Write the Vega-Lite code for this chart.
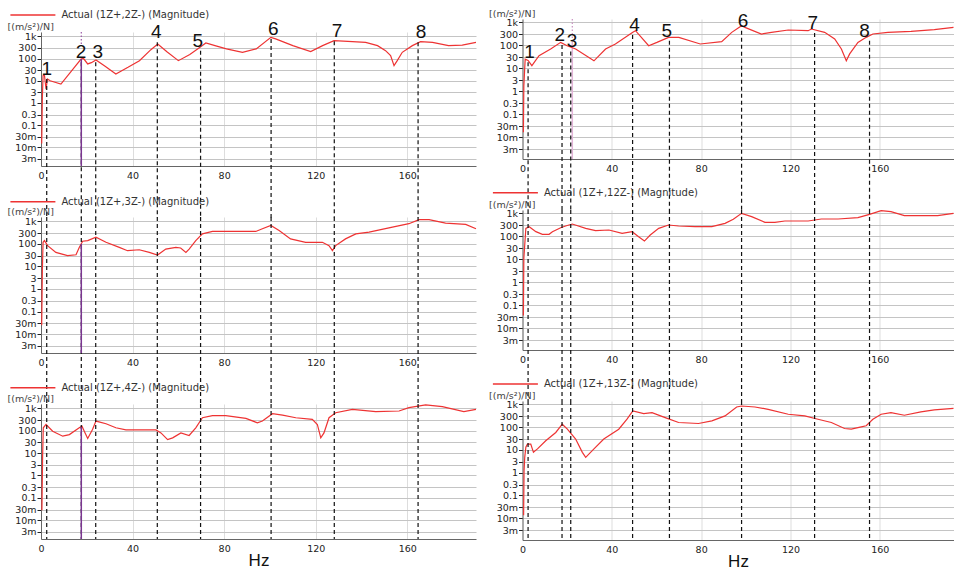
{
  "$schema": "https://vega.github.io/schema/vega-lite/v6.json",
  "background": "white",
  "padding": {"left": 7, "top": 8, "right": 0, "bottom": 0},
  "config": {
    "font": "DejaVu Sans",
    "view": {"stroke": null},
    "axis": {"labelFont": "DejaVu Sans", "labelFontSize": 9.5, "labelColor": "#222", "domainColor": "#666", "tickColor": "#222", "gridColor": "#c4c4c4", "titleFont": "DejaVu Sans", "labelOverlap": false, "labelFlush": false},
    "axisX": {"ticks": false, "labelPadding": 4, "gridColor": "#dddddd", "titleFont": "Liberation Sans", "titleFontSize": 17, "titleFontWeight": "normal", "titleColor": "#111", "titlePadding": 0},
    "axisY": {"tickSize": 4, "labelPadding": 1, "titleAngle": 0, "titleAlign": "left", "titleBaseline": "bottom", "titleX": -34, "titleY": -1, "titleFontSize": 9.5, "titleFontWeight": "normal", "titleColor": "#444",
      "labelExpr": "datum.value >= 1000 ? '1k' : datum.value < 0.05 ? format(datum.value * 1000, '.0f') + 'm' : format(datum.value, '~g')"},
    "legend": {"orient": "none", "symbolType": "M-3.75,0H3.75", "symbolSize": 144, "symbolStrokeWidth": 1.5, "labelFont": "DejaVu Sans", "labelFontSize": 10, "labelColor": "#333", "labelOffset": 21.5, "padding": 0},
    "text": {"font": "Liberation Sans", "fontSize": 19, "color": "#111", "baseline": "middle", "align": "center"}
  },
  "datasets": {
    "tl": [{"f":0.3,"v":0.015},{"f":0.6,"v":1.8},{"f":0.9,"v":17},{"f":1.5,"v":18},{"f":2.2,"v":4.2},{"f":2.8,"v":12},{"f":4,"v":10},{"f":8.7,"v":7.1},{"f":13,"v":25},{"f":17.5,"v":95},{"f":18.5,"v":102},{"f":20.4,"v":57},{"f":22,"v":65},{"f":24,"v":86},{"f":28,"v":45},{"f":32.7,"v":20},{"f":38,"v":40},{"f":43,"v":80},{"f":48,"v":250},{"f":51,"v":450},{"f":55,"v":200},{"f":60,"v":80},{"f":65,"v":150},{"f":69,"v":300},{"f":72,"v":500},{"f":76,"v":380},{"f":81,"v":270},{"f":88,"v":190},{"f":94,"v":270},{"f":100.4,"v":900},{"f":102.5,"v":760},{"f":110,"v":380},{"f":117.8,"v":204},{"f":123,"v":380},{"f":128,"v":640},{"f":136,"v":575},{"f":141.8,"v":530},{"f":147,"v":380},{"f":150.5,"v":226},{"f":152.7,"v":135},{"f":154.2,"v":48},{"f":155.6,"v":80},{"f":157.8,"v":190},{"f":162.2,"v":380},{"f":165.8,"v":575},{"f":171,"v":530},{"f":178,"v":380},{"f":184,"v":400},{"f":190,"v":530}],
    "tr": [{"f":0.4,"v":0.016},{"f":0.6,"v":1.7},{"f":1.2,"v":25},{"f":2.5,"v":22},{"f":4.2,"v":13},{"f":7.4,"v":35},{"f":12.6,"v":69},{"f":17.1,"v":134},{"f":20,"v":96},{"f":23.8,"v":69},{"f":32,"v":21},{"f":37.2,"v":69},{"f":41.6,"v":114},{"f":49.4,"v":366},{"f":50.6,"v":434},{"f":56.5,"v":96},{"f":60.2,"v":134},{"f":65.4,"v":222},{"f":70,"v":222},{"f":79.6,"v":114},{"f":89.2,"v":144},{"f":93.7,"v":366},{"f":98.1,"v":716},{"f":99.6,"v":605},{"f":107,"v":310},{"f":111.5,"v":366},{"f":119,"v":463},{"f":127.9,"v":434},{"f":129.4,"v":512},{"f":135.3,"v":366},{"f":139.8,"v":188},{"f":142.8,"v":69},{"f":145,"v":21},{"f":146.5,"v":42},{"f":150.2,"v":134},{"f":153.9,"v":222},{"f":156.9,"v":310},{"f":163.6,"v":366},{"f":174,"v":405},{"f":184.4,"v":478},{"f":193,"v":605}],
    "ml": [{"f":0.3,"v":0.025},{"f":0.6,"v":7.5},{"f":0.9,"v":118},{"f":1.5,"v":140},{"f":2.9,"v":84},{"f":6.5,"v":42},{"f":11.6,"v":30},{"f":15.3,"v":33},{"f":16.7,"v":70},{"f":18.2,"v":131},{"f":20.4,"v":140},{"f":24,"v":198},{"f":28.4,"v":118},{"f":34.2,"v":70},{"f":37.8,"v":50},{"f":42.9,"v":55},{"f":47.3,"v":42},{"f":50.9,"v":32},{"f":54.5,"v":59},{"f":58.9,"v":70},{"f":61,"v":66},{"f":63.3,"v":42},{"f":64.7,"v":59},{"f":67.6,"v":140},{"f":70.5,"v":279},{"f":74.9,"v":356},{"f":83.6,"v":356},{"f":93.8,"v":356},{"f":96.7,"v":469},{"f":100.4,"v":661},{"f":104,"v":394},{"f":109,"v":167},{"f":115.6,"v":118},{"f":122.9,"v":118},{"f":125.8,"v":84},{"f":127.3,"v":50},{"f":128.7,"v":84},{"f":133,"v":167},{"f":137.5,"v":279},{"f":143.3,"v":330},{"f":153.5,"v":557},{"f":160.7,"v":786},{"f":165.1,"v":1188},{"f":169.5,"v":1188},{"f":176.7,"v":841},{"f":185.5,"v":733},{"f":190,"v":470}],
    "mr": [{"f":0.4,"v":0.035},{"f":0.6,"v":11},{"f":1.5,"v":222},{"f":3,"v":262},{"f":6,"v":159},{"f":8.9,"v":122},{"f":11.9,"v":122},{"f":13.4,"v":159},{"f":17.1,"v":237},{"f":19.3,"v":281},{"f":22.3,"v":343},{"f":28.3,"v":222},{"f":32.7,"v":176},{"f":38.7,"v":188},{"f":44.6,"v":134},{"f":49.1,"v":159},{"f":52,"v":96},{"f":54.6,"v":62},{"f":57.2,"v":114},{"f":61,"v":222},{"f":65.4,"v":310},{"f":69.9,"v":281},{"f":77.3,"v":262},{"f":84.8,"v":262},{"f":90.7,"v":366},{"f":94.4,"v":548},{"f":98.1,"v":1000},{"f":102.6,"v":716},{"f":108.6,"v":405},{"f":113,"v":405},{"f":117.5,"v":463},{"f":127.9,"v":463},{"f":133.8,"v":566},{"f":141.3,"v":566},{"f":150.2,"v":648},{"f":155.4,"v":904},{"f":160.6,"v":1307},{"f":165,"v":1182},{"f":171,"v":791},{"f":185.9,"v":791},{"f":193,"v":1000}],
    "bl": [{"f":0.4,"v":0.028},{"f":0.7,"v":7.1},{"f":1,"v":135},{"f":2.2,"v":190},{"f":5.1,"v":95},{"f":9.5,"v":57},{"f":12.4,"v":67},{"f":16.7,"v":135},{"f":17.9,"v":160},{"f":18.9,"v":95},{"f":20.4,"v":45},{"f":22.5,"v":113},{"f":24,"v":269},{"f":28.4,"v":204},{"f":32.7,"v":135},{"f":37.1,"v":109},{"f":50.2,"v":109},{"f":52.4,"v":80},{"f":55.3,"v":40},{"f":57.5,"v":48},{"f":61.1,"v":80},{"f":64.7,"v":61},{"f":67.6,"v":135},{"f":70.5,"v":380},{"f":74.9,"v":468},{"f":80.7,"v":468},{"f":89.5,"v":355},{"f":94.5,"v":226},{"f":96.7,"v":269},{"f":101.1,"v":575},{"f":105.5,"v":501},{"f":111.3,"v":380},{"f":118.5,"v":320},{"f":120.7,"v":190},{"f":122.2,"v":48},{"f":123.6,"v":80},{"f":125.8,"v":380},{"f":128.7,"v":638},{"f":136,"v":902},{"f":146.2,"v":708},{"f":156.4,"v":759},{"f":160.7,"v":1072},{"f":168,"v":1413},{"f":175.3,"v":1189},{"f":184.7,"v":708},{"f":190,"v":902}],
    "br": [{"f":0.5,"v":0.0136},{"f":0.7,"v":1.24},{"f":1,"v":4.7},{"f":1.5,"v":13},{"f":2.2,"v":18},{"f":3.7,"v":18},{"f":4.9,"v":7.8},{"f":6.7,"v":11},{"f":10.4,"v":25},{"f":14.9,"v":58},{"f":17.8,"v":134},{"f":20.1,"v":81},{"f":23.8,"v":30},{"f":26.8,"v":7.8},{"f":28.3,"v":4.7},{"f":32,"v":11},{"f":36.4,"v":30},{"f":43.1,"v":81},{"f":46.8,"v":222},{"f":49.4,"v":512},{"f":54.3,"v":392},{"f":58,"v":433},{"f":63.9,"v":262},{"f":69.9,"v":159},{"f":78.8,"v":144},{"f":84.8,"v":188},{"f":90.7,"v":310},{"f":95.9,"v":765},{"f":98.1,"v":846},{"f":104.1,"v":765},{"f":110,"v":605},{"f":119,"v":366},{"f":126.4,"v":310},{"f":132.3,"v":222},{"f":138.3,"v":159},{"f":144.2,"v":87},{"f":147.2,"v":82},{"f":151.7,"v":103},{"f":153.9,"v":114},{"f":156.9,"v":222},{"f":160.6,"v":366},{"f":165,"v":433},{"f":171,"v":331},{"f":178.4,"v":463},{"f":184.4,"v":566},{"f":193,"v":670}],
    "lmodes": [{"f":2.5,"v":12},{"f":17.6,"v":67},{"f":23.9,"v":67},{"f":50.8,"v":535},{"f":69.7,"v":224},{"f":100.5,"v":755},{"f":128.1,"v":596},{"f":164.7,"v":535}],
    "llab": [{"n":"1","f":2.5,"v":34},{"n":"2","f":17.5,"v":190},{"n":"3","f":24.8,"v":190},{"n":"4","f":50.3,"v":1510},{"n":"5","f":68.5,"v":632},{"n":"6","f":101.5,"v":2130},{"n":"7","f":129.3,"v":1680},{"n":"8","f":166,"v":1510}],
    "rmodes": [{"f":2.5,"v":18},{"f":17.7,"v":102},{"f":21.6,"v":54},{"f":49.3,"v":279},{"f":65.8,"v":157},{"f":98.1,"v":430},{"f":130.8,"v":340},{"f":155.4,"v":157}],
    "rlab": [{"n":"1","f":3.2,"v":49},{"n":"2","f":16.7,"v":279},{"n":"3","f":22.2,"v":148},{"n":"4","f":50.2,"v":762},{"n":"5","f":64.6,"v":430},{"n":"6","f":98.8,"v":1175},{"n":"7","f":130,"v":930},{"n":"8","f":153.2,"v":430}]
  },
  "hconcat": [
    {
      "vconcat": [
        {
          "width": 435, "height": 1,
          "data": {"values": [{"a": 0}]},
          "mark": {"type": "point", "opacity": 0},
          "encoding": {}
        },
        {
          "vconcat": [
            {
              "width": 435, "height": 134,
              "encoding": {
                "x": {"field": "f", "type": "quantitative", "scale": {"domain": [0, 190], "nice": false}, "axis": {"values": [0, 40, 80, 120, 160], "title": null}},
                "y": {"field": "v", "type": "quantitative", "scale": {"type": "log", "domain": [0.00145, 1560], "nice": false}, "axis": {"values": [1000, 300, 100, 30, 10, 3, 1, 0.3, 0.1, 0.03, 0.01, 0.003], "title": "[(m/s²)/N]"}}
              },
              "layer": [
                {"data": {"values": [{"v": 95}]}, "mark": {"type": "rule", "color": "#6e2a84", "strokeWidth": 1.5}, "encoding": {"x": {"datum": 0}, "x2": {"datum": 190}}},
                {"data": {"name": "tl"}, "mark": {"type": "line", "strokeWidth": 1.2}, "encoding": {"color": {"datum": "Actual (1Z+,2Z-) (Magnitude)", "type": "nominal", "scale": {"range": ["#ee3333"]}, "legend": {"title": null, "legendX": -15.1, "legendY": -24}}}},
                {"data": {"name": "lmodes"}, "mark": {"type": "rule", "color": "#111", "strokeDash": [4, 3], "strokeWidth": 1.2}, "encoding": {"y2": {"datum": 0.000007}}},
                {"data": {"values": [{"f": 17.6, "v": 1560}]}, "mark": {"type": "rule", "color": "#9a5aa8", "strokeDash": [1.5, 2], "strokeWidth": 1.2}, "encoding": {"y2": {"datum": 400}}},
                {"data": {"values": [{"f": 17.6, "v": 95}]}, "mark": {"type": "rule", "color": "#7a3590", "strokeWidth": 1.5}, "encoding": {"y2": {"datum": 0.00145}}},
                {"data": {"name": "llab"}, "mark": {"type": "text"}, "encoding": {"text": {"field": "n"}}}
              ]
            },
            {
              "width": 435, "height": 136,
              "encoding": {
                "x": {"field": "f", "type": "quantitative", "scale": {"domain": [0, 190], "nice": false}, "axis": {"values": [0, 40, 80, 120, 160], "title": null}},
                "y": {"field": "v", "type": "quantitative", "scale": {"type": "log", "domain": [0.00145, 1560], "nice": false}, "axis": {"values": [1000, 300, 100, 30, 10, 3, 1, 0.3, 0.1, 0.03, 0.01, 0.003], "title": "[(m/s²)/N]"}}
              },
              "layer": [
                {"data": {"values": [{"v": 100}]}, "mark": {"type": "rule", "color": "#6e2a84", "strokeWidth": 1.5}, "encoding": {"x": {"datum": 0}, "x2": {"datum": 190}}},
                {"data": {"name": "ml"}, "mark": {"type": "line", "strokeWidth": 1.2}, "encoding": {"color": {"datum": "Actual (1Z+,3Z-) (Magnitude)", "type": "nominal", "scale": {"range": ["#ee3333"]}, "legend": {"title": null, "legendX": -15.1, "legendY": -22.3}}}},
                {"data": {"name": "lmodes"}, "mark": {"type": "rule", "color": "#111", "strokeDash": [4, 3], "strokeWidth": 1.2}, "encoding": {"y": {"datum": 1560}, "y2": {"datum": 0.000007}}},
                {"data": {"values": [{"f": 17.6, "v": 100}]}, "mark": {"type": "rule", "color": "#7a3590", "strokeWidth": 1.5}, "encoding": {"y2": {"datum": 0.00145}}}
              ]
            },
            {
              "width": 435, "height": 135,
              "encoding": {
                "x": {"field": "f", "type": "quantitative", "scale": {"domain": [0, 190], "nice": false}, "axis": {"values": [0, 40, 80, 120, 160], "title": "Hz"}},
                "y": {"field": "v", "type": "quantitative", "scale": {"type": "log", "domain": [0.00145, 1560], "nice": false}, "axis": {"values": [1000, 300, 100, 30, 10, 3, 1, 0.3, 0.1, 0.03, 0.01, 0.003], "title": "[(m/s²)/N]"}}
              },
              "layer": [
                {"data": {"values": [{"v": 145}]}, "mark": {"type": "rule", "color": "#6e2a84", "strokeWidth": 1.5}, "encoding": {"x": {"datum": 0}, "x2": {"datum": 190}}},
                {"data": {"name": "bl"}, "mark": {"type": "line", "strokeWidth": 1.2}, "encoding": {"color": {"datum": "Actual (1Z+,4Z-) (Magnitude)", "type": "nominal", "scale": {"range": ["#ee3333"]}, "legend": {"title": null, "legendX": -15.1, "legendY": -23.3}}}},
                {"data": {"name": "lmodes"}, "mark": {"type": "rule", "color": "#111", "strokeDash": [4, 3], "strokeWidth": 1.2}, "encoding": {"y": {"datum": 1560}, "y2": {"datum": 0.00145}}},
                {"data": {"values": [{"f": 17.6, "v": 145}]}, "mark": {"type": "rule", "color": "#7a3590", "strokeWidth": 1.5}, "encoding": {"y2": {"datum": 0.00145}}}
              ]
            }
          ],
          "spacing": 51,
          "bounds": "flush",
          "resolve": {"scale": {"x": "independent", "y": "independent", "color": "independent"}, "legend": {"color": "independent"}}
        }
      ],
      "spacing": 12,
      "bounds": "flush",
      "resolve": {"scale": {"x": "independent", "y": "independent", "color": "independent"}, "legend": {"color": "independent"}}
    },
    {
      "vconcat": [
        {
          "width": 431, "height": 140,
          "encoding": {
            "x": {"field": "f", "type": "quantitative", "scale": {"domain": [0, 193], "nice": false}, "axis": {"values": [0, 40, 80, 120, 160], "title": null}},
            "y": {"field": "v", "type": "quantitative", "scale": {"type": "log", "domain": [0.0011, 1400], "nice": false}, "axis": {"values": [1000, 300, 100, 30, 10, 3, 1, 0.3, 0.1, 0.03, 0.01, 0.003], "title": "[(m/s²)/N]"}}
          },
          "layer": [
            {"data": {"values": [{"v": 75}]}, "mark": {"type": "rule", "color": "#6e2a84", "strokeWidth": 1.5}, "encoding": {"x": {"datum": 0}, "x2": {"datum": 193}}},
            {"data": {"values": [{"f": 22.3, "v": 1400}]}, "mark": {"type": "rule", "color": "#c890c0", "strokeDash": [1.5, 2], "strokeWidth": 1.2}, "encoding": {"y2": {"datum": 140}}},
            {"data": {"values": [{"f": 22.3, "v": 140}]}, "mark": {"type": "rule", "color": "#e2b4d8", "strokeWidth": 1.5}, "encoding": {"y2": {"datum": 0.0011}}},
            {"data": {"name": "tr"}, "mark": {"type": "line", "strokeWidth": 1.2, "color": "#ee3333"}},
            {"data": {"name": "rmodes"}, "mark": {"type": "rule", "color": "#111", "strokeDash": [4, 3], "strokeWidth": 1.2}, "encoding": {"y2": {"datum": 0.0000065}}},
            {"data": {"name": "rlab"}, "mark": {"type": "text"}, "encoding": {"text": {"field": "n"}}}
          ]
        },
        {
          "width": 431, "height": 140,
          "encoding": {
            "x": {"field": "f", "type": "quantitative", "scale": {"domain": [0, 193], "nice": false}, "axis": {"values": [0, 40, 80, 120, 160], "title": null}},
            "y": {"field": "v", "type": "quantitative", "scale": {"type": "log", "domain": [0.0011, 1400], "nice": false}, "axis": {"values": [1000, 300, 100, 30, 10, 3, 1, 0.3, 0.1, 0.03, 0.01, 0.003], "title": "[(m/s²)/N]"}}
          },
          "layer": [
            {"data": {"values": [{"v": 280}]}, "mark": {"type": "rule", "color": "#8a5a8e", "strokeWidth": 1.5}, "encoding": {"x": {"datum": 0}, "x2": {"datum": 193}}},
            {"data": {"values": [{"f": 22.3}]}, "mark": {"type": "rule", "color": "#e2b4d8", "strokeWidth": 1.5}, "encoding": {"y": {"datum": 1400}, "y2": {"datum": 0.0011}}},
            {"data": {"name": "mr"}, "mark": {"type": "line", "strokeWidth": 1.2}, "encoding": {"color": {"datum": "Actual (1Z+,12Z-) (Magnitude)", "type": "nominal", "scale": {"range": ["#ee3333"]}, "legend": {"title": null, "legendX": -14.1, "legendY": -24.3}}}},
            {"data": {"name": "rmodes"}, "mark": {"type": "rule", "color": "#111", "strokeDash": [4, 3], "strokeWidth": 1.2}, "encoding": {"y": {"datum": 1400}, "y2": {"datum": 0.0000065}}}
          ]
        },
        {
          "width": 431, "height": 139,
          "encoding": {
            "x": {"field": "f", "type": "quantitative", "scale": {"domain": [0, 193], "nice": false}, "axis": {"values": [0, 40, 80, 120, 160], "title": "Hz"}},
            "y": {"field": "v", "type": "quantitative", "scale": {"type": "log", "domain": [0.0011, 1400], "nice": false}, "axis": {"values": [1000, 300, 100, 30, 10, 3, 1, 0.3, 0.1, 0.03, 0.01, 0.003], "title": "[(m/s²)/N]"}}
          },
          "layer": [
            {"data": {"values": [{"v": 28}]}, "mark": {"type": "rule", "color": "#6e2a84", "strokeWidth": 1.5}, "encoding": {"x": {"datum": 0}, "x2": {"datum": 193}}},
            {"data": {"values": [{"f": 22.3}]}, "mark": {"type": "rule", "color": "#e2b4d8", "strokeWidth": 1.5}, "encoding": {"y": {"datum": 1400}, "y2": {"datum": 0.0011}}},
            {"data": {"name": "br"}, "mark": {"type": "line", "strokeWidth": 1.2}, "encoding": {"color": {"datum": "Actual (1Z+,13Z-) (Magnitude)", "type": "nominal", "scale": {"range": ["#ee3333"]}, "legend": {"title": null, "legendX": -14.1, "legendY": -24}}}},
            {"data": {"name": "rmodes"}, "mark": {"type": "rule", "color": "#111", "strokeDash": [4, 3], "strokeWidth": 1.2}, "encoding": {"y": {"datum": 1400}, "y2": {"datum": 0.0011}}}
          ]
        }
      ],
      "spacing": 51,
      "bounds": "flush",
      "resolve": {"scale": {"x": "independent", "y": "independent", "color": "independent"}, "legend": {"color": "independent"}}
    }
  ],
  "spacing": 9.5,
  "resolve": {"scale": {"x": "independent", "y": "independent", "color": "independent"}, "legend": {"color": "independent"}}
}
